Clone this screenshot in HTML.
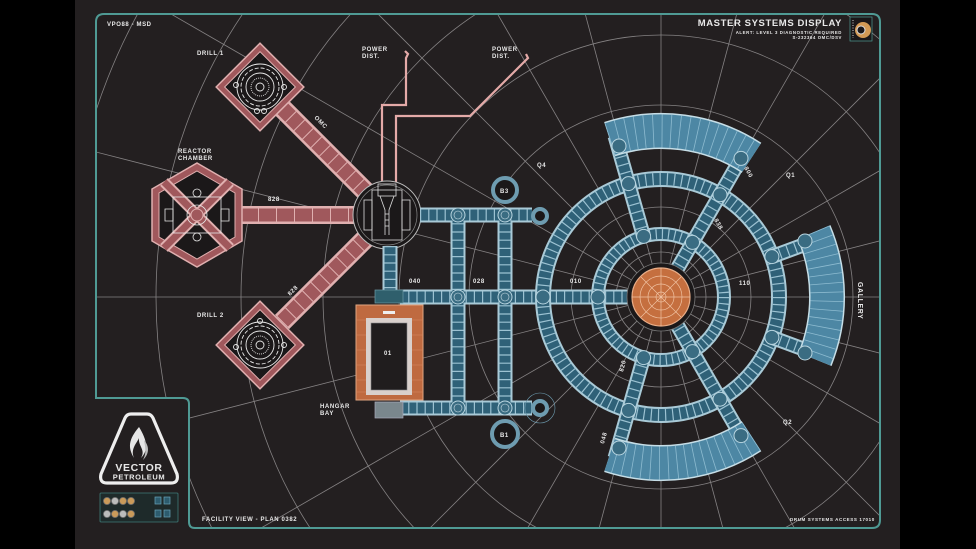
<!DOCTYPE html>
<html><head><meta charset="utf-8"><style>
html,body{margin:0;padding:0;background:#000;width:976px;height:549px;overflow:hidden;}
svg{display:block;}
text{font-family:"Liberation Sans",sans-serif;fill:#e8e8e8;font-weight:bold;letter-spacing:0.6px;}
</style></head><body>
<svg width="976" height="549" viewBox="0 0 976 549" xmlns="http://www.w3.org/2000/svg">
<defs>
<clipPath id="fr"><path d="M96,22 Q96,14 104,14 H872 Q880,14 880,22 V520 Q880,528 872,528 H195 Q189,528 189,522 V404 Q189,398 183,398 H96 Z"/></clipPath>
</defs>
<rect x="0" y="0" width="976" height="549" fill="#000"/>
<rect x="75" y="0" width="825" height="549" fill="#231f20"/>

<g clip-path="url(#fr)" stroke="#858283" stroke-width="0.8" fill="none">
<circle cx="661" cy="297" r="45"/><circle cx="661" cy="297" r="90"/>
<circle cx="661" cy="297" r="192"/><circle cx="661" cy="297" r="262"/>
<circle cx="661" cy="297" r="338"/><circle cx="661" cy="297" r="420"/>
<circle cx="661" cy="297" r="505"/><circle cx="661" cy="297" r="595"/>
<line x1="661" y1="297" x2="1361" y2="297"/>
<line x1="661" y1="297" x2="1339" y2="471"/>
<line x1="661" y1="297" x2="1267" y2="647"/>
<line x1="661" y1="297" x2="1156" y2="792"/>
<line x1="661" y1="297" x2="1011" y2="903"/>
<line x1="661" y1="297" x2="842" y2="973"/>
<line x1="661" y1="297" x2="661" y2="997"/>
<line x1="661" y1="297" x2="480" y2="973"/>
<line x1="661" y1="297" x2="311" y2="903"/>
<line x1="661" y1="297" x2="166" y2="792"/>
<line x1="661" y1="297" x2="55" y2="647"/>
<line x1="661" y1="297" x2="-17" y2="471"/>
<line x1="661" y1="297" x2="-39" y2="297"/>
<line x1="661" y1="297" x2="-17" y2="123"/>
<line x1="661" y1="297" x2="55" y2="-53"/>
<line x1="661" y1="297" x2="166" y2="-198"/>
<line x1="661" y1="297" x2="311" y2="-309"/>
<line x1="661" y1="297" x2="480" y2="-379"/>
<line x1="661" y1="297" x2="661" y2="-403"/>
<line x1="661" y1="297" x2="842" y2="-379"/>
<line x1="661" y1="297" x2="1011" y2="-309"/>
<line x1="661" y1="297" x2="1156" y2="-198"/>
<line x1="661" y1="297" x2="1267" y2="-53"/>
<line x1="661" y1="297" x2="1339" y2="123"/>
</g>

<path d="M96,22 Q96,14 104,14 H872 Q880,14 880,22 V520 Q880,528 872,528 H195 Q189,528 189,522 V404 Q189,398 183,398 H96 Z" fill="none" stroke="#4f9a94" stroke-width="2"/>

<g fill="none" stroke="#e4aaa8" stroke-width="2.2">
<path d="M382,182 V105 H406 V58 l2,-4 -3,-3"/>
<path d="M396,182 V116 H470 L528,58 l-2,-4"/>
</g>

<g stroke-linecap="butt">
<line x1="282" y1="108" x2="366" y2="192" stroke="#e0b0b0" stroke-width="20"/>
<line x1="282" y1="108" x2="366" y2="192" stroke="#a0585c" stroke-width="15"/>
<line x1="282" y1="108" x2="366" y2="192" stroke="#e0b0b0" stroke-width="15" stroke-dasharray="1 11"/>
<line x1="282" y1="322" x2="366" y2="238" stroke="#e0b0b0" stroke-width="20"/>
<line x1="282" y1="322" x2="366" y2="238" stroke="#a0585c" stroke-width="15"/>
<line x1="282" y1="322" x2="366" y2="238" stroke="#e0b0b0" stroke-width="15" stroke-dasharray="1 11"/>
<line x1="240" y1="215" x2="356" y2="215" stroke="#e0b0b0" stroke-width="18"/>
<line x1="240" y1="215" x2="356" y2="215" stroke="#a0585c" stroke-width="13"/>
<line x1="240" y1="215" x2="356" y2="215" stroke="#e0b0b0" stroke-width="13" stroke-dasharray="1 17"/>
</g>

<g transform="translate(260,87)">
<rect x="-31" y="-31" width="62" height="62" transform="rotate(45)" fill="#a0585c" stroke="#e0b0b0" stroke-width="1.5"/>
<rect x="-25" y="-25" width="50" height="50" transform="rotate(45)" fill="#1b1819" stroke="#e0b0b0" stroke-width="1"/>
<g fill="none" stroke="#e8e8e8" stroke-width="0.9">
<circle r="23"/><circle r="19" stroke-dasharray="4 2"/><circle r="14"/><circle r="9" stroke-dasharray="1 1"/><circle r="4"/>
<circle cx="-24" cy="-2" r="2.5"/><circle cx="-3" cy="24" r="2.5"/><circle cx="4" cy="24" r="2.5"/><circle cx="24" cy="0" r="2.5"/>
</g></g>
<g transform="translate(260,345)">
<rect x="-31" y="-31" width="62" height="62" transform="rotate(45)" fill="#a0585c" stroke="#e0b0b0" stroke-width="1.5"/>
<rect x="-25" y="-25" width="50" height="50" transform="rotate(45)" fill="#1b1819" stroke="#e0b0b0" stroke-width="1"/>
<g fill="none" stroke="#e8e8e8" stroke-width="0.9">
<circle r="23"/><circle r="19" stroke-dasharray="4 2"/><circle r="14"/><circle r="9" stroke-dasharray="1 1"/><circle r="4"/>
<circle cx="-24" cy="2" r="2.5"/><circle cx="0" cy="-24" r="2.5"/><circle cx="24" cy="0" r="2.5"/>
</g></g>

<g transform="translate(197,215)">
<polygon points="0,-52 45,-26 45,26 0,52 -45,26 -45,-26" fill="#a0585c" stroke="#e0b0b0" stroke-width="1.5"/>
<polygon points="0,-44 38,-22 38,22 0,44 -38,22 -38,-22" fill="#1b1819" stroke="#e0b0b0" stroke-width="1"/>
<g stroke="#e0b0b0" stroke-width="11"><line x1="-33" y1="-33" x2="33" y2="33"/><line x1="33" y1="-33" x2="-33" y2="33"/></g>
<g stroke="#a0585c" stroke-width="7"><line x1="-33" y1="-33" x2="33" y2="33"/><line x1="33" y1="-33" x2="-33" y2="33"/></g>
<g fill="none" stroke="#e8e8e8" stroke-width="0.8">
<rect x="-24" y="-18" width="48" height="36"/><circle r="10"/><circle cx="0" cy="-22" r="4"/><circle cx="0" cy="22" r="4"/>
<path d="M-32,-6 h8 v12 h-8 z M24,-6 h8 v12 h-8 z"/>
</g>
<circle r="6" fill="#a0585c" stroke="#e0b0b0"/>
</g>

<circle cx="387" cy="215" r="34" fill="#1b1819" stroke="#bdbdbd" stroke-width="1"/>
<circle cx="387" cy="215" r="30" fill="none" stroke="#8a8a8a" stroke-width="0.7"/>
<g fill="none" stroke="#dcdcdc" stroke-width="0.8">
<rect x="372" y="190" width="30" height="50"/><rect x="378" y="184" width="18" height="12"/>
<path d="M380,196 L385,210 V235 M394,196 L389,210 V235"/>
<rect x="364" y="200" width="8" height="30"/><rect x="402" y="200" width="8" height="30"/>
<line x1="385" y1="214" x2="389" y2="214"/><line x1="385" y1="220" x2="389" y2="220"/><line x1="385" y1="226" x2="389" y2="226"/>
</g>

<g fill="none" stroke-linecap="butt">
<g stroke="#a9cad7" stroke-width="15">
<path d="M420,215 H532 M400,297 H635 M400,408 H532 M458,215 V408 M505,215 V408 M390,246 V292"/>
</g>
<g stroke="#2f6178" stroke-width="11">
<path d="M420,215 H532 M400,297 H635 M400,408 H532 M458,215 V408 M505,215 V408 M390,246 V292"/>
</g>
<g stroke="#9cc2d2" stroke-width="11" stroke-dasharray="1.2 7">
<path d="M420,215 H532 M400,297 H635 M400,408 H532 M458,215 V408 M505,215 V408 M390,246 V292"/>
</g>
</g>
<rect x="375" y="290" width="28" height="13" fill="#2f5f6c" stroke="#6d9aa6" stroke-width="0.7"/>
<rect x="375" y="402" width="28" height="16" fill="#7a878d" stroke="#aab" stroke-width="0.7"/>
<g fill="#3a6c82" stroke="#b8d5e0" stroke-width="1">
<circle cx="458" cy="215" r="7"/><circle cx="505" cy="215" r="7"/><circle cx="458" cy="297" r="7"/><circle cx="505" cy="297" r="7"/><circle cx="458" cy="408" r="7"/><circle cx="505" cy="408" r="7"/>
</g>
<g fill="none" stroke="#cfe2ea" stroke-width="0.6">
<circle cx="458" cy="215" r="4"/><circle cx="505" cy="215" r="4"/><circle cx="458" cy="297" r="4"/><circle cx="505" cy="297" r="4"/><circle cx="458" cy="408" r="4"/><circle cx="505" cy="408" r="4"/>
</g>
<g fill="#1b1819" stroke="#6e9cb0" stroke-width="4">
<circle cx="505" cy="190" r="12"/><circle cx="540" cy="216" r="7"/><circle cx="540" cy="408" r="7"/><circle cx="505" cy="434" r="13"/>
</g>
<circle cx="540" cy="408" r="15" fill="none" stroke="#6e9cb0" stroke-width="0.6"/>

<rect x="356" y="305" width="67" height="95" fill="#bf6a40" stroke="#e2a47f" stroke-width="1"/>
<g stroke="#d88c64" stroke-width="0.6"><path d="M356,320 H423 M356,335 H423 M356,350 H423 M356,365 H423 M356,380 H423 M356,392 H423"/></g>
<rect x="366" y="318" width="46" height="77" fill="#d9d0cc"/>
<rect x="371" y="323" width="36" height="67" fill="#201d1e" stroke="#888" stroke-width="0.6"/>
<rect x="383" y="311" width="12" height="3" fill="#eee"/>

<g fill="none">
<circle cx="661" cy="297" r="118" stroke="#a9cad7" stroke-width="16"/>
<circle cx="661" cy="297" r="118" stroke="#2f6178" stroke-width="12"/>
<circle cx="661" cy="297" r="118" stroke="#9cc2d2" stroke-width="12" stroke-dasharray="1.2 6"/>
<circle cx="661" cy="297" r="63" stroke="#a9cad7" stroke-width="14"/>
<circle cx="661" cy="297" r="63" stroke="#2f6178" stroke-width="10"/>
<circle cx="661" cy="297" r="63" stroke="#9cc2d2" stroke-width="10" stroke-dasharray="1.2 5"/>
</g>
<g fill="none" stroke-linecap="butt">
<g stroke="#a9cad7" stroke-width="15">
<path d="M675,272.8 L746,149.8 M675,321.2 L746,444.2 M643.6,236.4 L615,136 M643.6,357.6 L615,458 M771.9,256.6 L806,244 M771.9,337.4 L806,350"/>
</g>
<g stroke="#2f6178" stroke-width="11"><path d="M675,272.8 L746,149.8 M675,321.2 L746,444.2 M643.6,236.4 L615,136 M643.6,357.6 L615,458 M771.9,256.6 L806,244 M771.9,337.4 L806,350"/></g>
<g stroke="#9cc2d2" stroke-width="11" stroke-dasharray="1.2 7"><path d="M675,272.8 L746,149.8 M675,321.2 L746,444.2 M643.6,236.4 L615,136 M643.6,357.6 L615,458 M771.9,256.6 L806,244 M771.9,337.4 L806,350"/></g>
</g>
<g fill="none">
<path d="M609.7,139.1 A166,166 0 0 1 751.5,157.8 M813.9,232.1 A166,166 0 0 1 814.9,359.2 M751.5,436.2 A166,166 0 0 1 609.7,454.9" stroke="#c6dee7" stroke-width="36"/>
<path d="M609.7,139.1 A166,166 0 0 1 751.5,157.8 M813.9,232.1 A166,166 0 0 1 814.9,359.2 M751.5,436.2 A166,166 0 0 1 609.7,454.9" stroke="#4d87a4" stroke-width="33"/>
<path d="M609.7,139.1 A166,166 0 0 1 751.5,157.8 M813.9,232.1 A166,166 0 0 1 814.9,359.2 M751.5,436.2 A166,166 0 0 1 609.7,454.9" stroke="#8dbbd0" stroke-width="33" stroke-dasharray="0.8 8"/>
</g>
<g fill="#3a6c82" stroke="#b8d5e0" stroke-width="1">
<circle cx="598" cy="297" r="7"/><circle cx="543" cy="297" r="7"/>
<circle cx="692.5" cy="242.4" r="7"/><circle cx="692.5" cy="351.6" r="7"/><circle cx="643.6" cy="236.4" r="7"/><circle cx="643.6" cy="357.6" r="7"/>
<circle cx="720" cy="194.8" r="7"/><circle cx="720" cy="399.2" r="7"/><circle cx="628.5" cy="183.6" r="7"/><circle cx="628.5" cy="410.4" r="7"/>
<circle cx="771.9" cy="256.6" r="7"/><circle cx="771.9" cy="337.4" r="7"/>
<circle cx="741" cy="158.4" r="7"/><circle cx="741" cy="435.6" r="7"/><circle cx="619" cy="146" r="7"/><circle cx="619" cy="448" r="7"/>
<circle cx="805" cy="241" r="7"/><circle cx="805" cy="353" r="7"/>
</g>
<circle cx="661" cy="297" r="34" fill="#1b1819" stroke="#777" stroke-width="0.8"/>
<circle cx="661" cy="297" r="29" fill="#c56f3f" stroke="#e8ad88" stroke-width="1.2"/>
<g fill="none" stroke="#f0c2a2" stroke-width="0.7">
<circle cx="661" cy="297" r="21"/><circle cx="661" cy="297" r="13"/><circle cx="661" cy="297" r="5"/>
<path d="M661,268 V326 M632,297 H690 M641,277 L681,317 M681,277 L641,317"/>
</g>

<g font-size="6">
<text x="107" y="26">VPO88 - MSD</text>
<text x="197" y="55">DRILL 1</text>
<text x="362" y="51">POWER</text><text x="362" y="58">DIST.</text>
<text x="492" y="51">POWER</text><text x="492" y="58">DIST.</text>
<text x="178" y="153">REACTOR</text><text x="178" y="160">CHAMBER</text>
<text x="268" y="201">828</text>
<text x="197" y="317">DRILL 2</text>
<text x="320" y="408">HANGAR</text><text x="320" y="415">BAY</text>
<text x="384" y="355">01</text>
<text x="500" y="193">B3</text><text x="500" y="437">B1</text>
<text x="409" y="283">040</text><text x="473" y="283">028</text><text x="570" y="283">010</text>
<text x="537" y="167">Q4</text><text x="786" y="177">Q1</text><text x="783" y="424">Q2</text>
<text x="739" y="285">110</text>
<text transform="translate(314,118) rotate(45)">OMC</text>
<text transform="translate(290,296) rotate(-45)">828</text>
<text transform="translate(744,168) rotate(60)">800</text>
<text transform="translate(714,220) rotate(60)">838</text>
<text transform="translate(623,372) rotate(-75)">820</text>
<text transform="translate(604,444) rotate(-75)">048</text>
<text transform="translate(858,282) rotate(90)" font-size="7">GALLERY</text>
<text x="202" y="521">FACILITY VIEW - PLAN 0382</text>
<text x="790" y="521" font-size="4.5">DRUM SYSTEMS ACCESS 17010</text>
</g>
<text x="842" y="26" font-size="9.5" text-anchor="end" letter-spacing="1">MASTER SYSTEMS DISPLAY</text>
<text x="842" y="34" font-size="4.3" text-anchor="end" fill="#ccc">ALERT: LEVEL 3 DIAGNOSTIC REQUIRED</text>
<text x="842" y="39" font-size="4.3" text-anchor="end" fill="#ccc">S-232364 OMC/DSV</text>
<rect x="850" y="17" width="22" height="24" fill="#1b1819" stroke="#4f9a94" stroke-width="0.7"/>
<circle cx="863" cy="30" r="8" fill="#d39a55"/>
<circle cx="861" cy="30" r="4" fill="#1b1819" stroke="#ddd" stroke-width="1"/>
<line x1="853" y1="20" x2="853" y2="38" stroke="#ccc" stroke-width="1" stroke-dasharray="1 1.5"/>

<path d="M131,414 H147 Q151,414 153,418 L177,474 Q179,483 171,483 H107 Q99,483 101,474 L125,418 Q127,414 131,414 Z" fill="none" stroke="#eee" stroke-width="3.2"/>
<path d="M139,427 C128,440 128,448 134,458 C130,449 137,443 139,438 C138,446 146,450 141,458 C149,450 147,440 139,427 Z" fill="#e6e6e6"/>
<path d="M144,440 C150,447 149,454 143,460 C147,452 145,447 144,440 Z" fill="#bbb"/>
<text x="139" y="471" font-size="10.5" text-anchor="middle" letter-spacing="0">VECTOR</text>
<text x="139" y="479.5" font-size="7.5" text-anchor="middle" letter-spacing="0">PETROLEUM</text>
<rect x="100" y="493" width="78" height="29" rx="1" fill="#1e2a2a" stroke="#3f7b78" stroke-width="0.8"/>
<g stroke="#666" stroke-width="0.8">
<circle cx="107" cy="501" r="3.6" fill="#c99a5a"/><circle cx="115" cy="501" r="3.6" fill="#bbb"/><circle cx="123" cy="501" r="3.6" fill="#c99a5a"/><circle cx="131" cy="501" r="3.6" fill="#c99a5a"/>
<circle cx="107" cy="514" r="3.6" fill="#bbb"/><circle cx="115" cy="514" r="3.6" fill="#c99a5a"/><circle cx="123" cy="514" r="3.6" fill="#bbb"/><circle cx="131" cy="514" r="3.6" fill="#c99a5a"/>
</g>
<g fill="#2d5c6e" stroke="#6aa4b8" stroke-width="0.7">
<rect x="155" y="497" width="6" height="7"/><rect x="164" y="497" width="6" height="7"/>
<rect x="155" y="510" width="6" height="7"/><rect x="164" y="510" width="6" height="7"/>
</g>
</svg>
</body></html>
